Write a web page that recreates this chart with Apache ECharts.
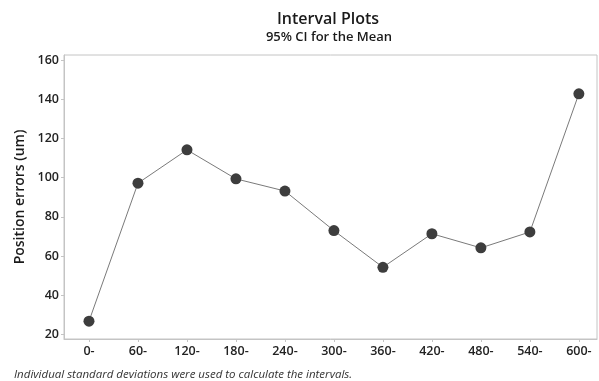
<!DOCTYPE html>
<html><head><meta charset="utf-8">
<script src="https://cdn.jsdelivr.net/npm/echarts@6/dist/echarts.min.js"></script>
<style>html,body{margin:0;padding:0;background:#fff}#c{width:599px;height:381px}</style>
</head><body><div id="c"></div>
<script>
const categories = ['0-','60-','120-','180-','240-','300-','360-','420-','480-','540-','600-'];
const means = [26.8, 97.2, 114.2, 99.4, 93.2, 73.0, 54.3, 71.4, 64.2, 72.3, 142.8];
const yTicks = [20, 40, 60, 80, 100, 120, 140, 160];
const xTicks = categories.map((c, i) => i);

const font = '"Open Sans", "Noto Sans", sans-serif';
const chart = echarts.init(document.getElementById('c'), null, {renderer: 'canvas'});
chart.setOption({
  animation: false,
  backgroundColor: '#fff',
  title: [
    {text: 'Interval Plots', left: 323, top: 6, textAlign: 'center',
     textStyle: {fontFamily: font, fontSize: 16, fontWeight: 600, color: '#1a1a1a'}},
    {text: '95% CI for the Mean', left: 324, top: 26, textAlign: 'center',
     textStyle: {fontFamily: font, fontSize: 13, fontWeight: 600, color: '#1a1a1a'}},
    {text: 'Individual standard deviations were used to calculate the intervals.', left: 9, top: 364,
     textStyle: {fontFamily: font, fontSize: 11.5, fontStyle: 'italic', fontWeight: 'normal', color: '#333'}}
  ],
  grid: {left: 64, right: 2, top: 55, bottom: 42, show: true, borderColor: '#c4c4c4', borderWidth: 1, backgroundColor: 'transparent'},
  xAxis: {
    type: 'value', min: -0.51, max: 10.37,
    axisLine: {show: true, onZero: false, lineStyle: {color: '#c4c4c4'}},
    axisTick: {show: true, length: 3, customValues: xTicks, lineStyle: {color: '#c4c4c4'}},
    axisLabel: {customValues: xTicks, formatter: v => categories[Math.round(v)] || '', fontFamily: font, fontSize: 12.5, fontWeight: 600, color: '#222', margin: 6},
    splitLine: {show: false}
  },
  yAxis: {
    type: 'value', min: 17.7, max: 162.6,
    name: 'Position errors (um)', nameLocation: 'middle', nameGap: 36, nameRotate: 90,
    nameTextStyle: {fontFamily: font, fontSize: 14, fontWeight: 600, color: '#1a1a1a'},
    axisLine: {show: true, onZero: false, lineStyle: {color: '#c4c4c4'}},
    axisTick: {show: true, length: 3, customValues: yTicks, lineStyle: {color: '#c4c4c4'}},
    axisLabel: {customValues: yTicks, fontFamily: font, fontSize: 12.5, fontWeight: 600, color: '#222', margin: 5},
    splitLine: {show: false}
  },
  series: [{
    type: 'line',
    data: means.map((v, i) => [i, v]),
    symbol: 'circle', symbolSize: 11,
    itemStyle: {color: '#3d3d3d'},
    lineStyle: {color: '#7a7a7a', width: 1},
    z: 3
  }]
});
</script></body></html>
